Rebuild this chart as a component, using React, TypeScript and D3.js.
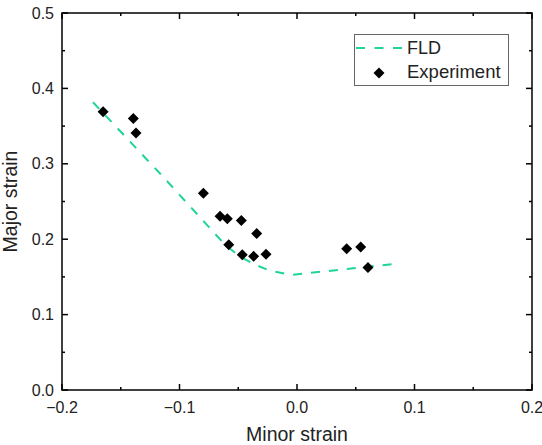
import React from "react";
import * as d3 from "d3";

const fldX = [-0.1736, -0.1166, -0.0613, -0.0485, -0.0357, -0.023, -0.0102, -0.0034, 0.0851];
const fldY = [0.3816, 0.2872, 0.1928, 0.1769, 0.1662, 0.1582, 0.1543, 0.1529, 0.1676];

const expX = [-0.165, -0.1393, -0.137, -0.0797, -0.0655, -0.0593, -0.0474, -0.0343, -0.0581, -0.0466, -0.0369, -0.0264, 0.0423, 0.0542, 0.0604];
const expY = [0.369, 0.36, 0.341, 0.261, 0.2305, 0.227, 0.2247, 0.2074, 0.1928, 0.1795, 0.1773, 0.18, 0.1875, 0.1897, 0.1626];

const xMajor = [-0.2, -0.1, 0.0, 0.1, 0.2];
const yMajor = [0.0, 0.1, 0.2, 0.3, 0.4, 0.5];
const xMinor = [-0.15, -0.05, 0.05, 0.15];
const yMinor = [0.05, 0.15, 0.25, 0.35, 0.45];

const GREEN = "#1fd49a";
const FONT = "'Liberation Sans', Arial, sans-serif";

export default function App() {
  const W = 542, H = 445;
  const L = 62, R = 532, T = 13, B = 390;
  const x = d3.scaleLinear().domain([-0.2, 0.2]).range([L, R]);
  const y = d3.scaleLinear().domain([0, 0.5]).range([B, T]);
  const line = d3.line<number>().x((_, i) => x(fldX[i])).y((_, i) => y(fldY[i]));
  const fmt = (v: number) => (v < 0 ? "\u2212" : "") + Math.abs(v).toFixed(1);
  const diamond = (cx: number, cy: number, r: number) =>
    `M${cx},${cy - r}L${cx + r},${cy}L${cx},${cy + r}L${cx - r},${cy}Z`;
  const maj = 6, min = 3;
  return (
    <svg width={W} height={H} style={{ position: "absolute", left: 0, top: 0, background: "#fff" }} fontFamily={FONT}>
      <rect x={0} y={0} width={W} height={H} fill="#fff" />
      <path d={line(fldX) || ""} fill="none" stroke={GREEN} strokeWidth={2} strokeDasharray="9,9" />
      {expX.map((v, i) => (
        <path key={i} d={diamond(x(v), y(expY[i]), 5.5)} fill="#000" />
      ))}
      {/* frame */}
      <rect x={L} y={T} width={R - L} height={B - T} fill="none" stroke="#000" strokeWidth={1.5} />
      {xMajor.map((v) => (
        <g key={"xm" + v}>
          <line x1={x(v)} x2={x(v)} y1={B} y2={B - maj} stroke="#000" strokeWidth={1.5} />
          <line x1={x(v)} x2={x(v)} y1={T} y2={T + maj} stroke="#000" strokeWidth={1.5} />
          <text x={x(v)} y={412.5} textAnchor="middle" fontSize={16} fill="#222">{fmt(v)}</text>
        </g>
      ))}
      {xMinor.map((v) => (
        <g key={"xn" + v}>
          <line x1={x(v)} x2={x(v)} y1={B} y2={B - min} stroke="#000" strokeWidth={1.5} />
          <line x1={x(v)} x2={x(v)} y1={T} y2={T + min} stroke="#000" strokeWidth={1.5} />
        </g>
      ))}
      {yMajor.map((v) => (
        <g key={"ym" + v}>
          <line x1={L} x2={L + maj} y1={y(v)} y2={y(v)} stroke="#000" strokeWidth={1.5} />
          <line x1={R} x2={R - maj} y1={y(v)} y2={y(v)} stroke="#000" strokeWidth={1.5} />
          <text x={54} y={y(v) + 5.5} textAnchor="end" fontSize={16} fill="#222">{fmt(v)}</text>
        </g>
      ))}
      {yMinor.map((v) => (
        <g key={"yn" + v}>
          <line x1={L} x2={L + min} y1={y(v)} y2={y(v)} stroke="#000" strokeWidth={1.5} />
          <line x1={R} x2={R - min} y1={y(v)} y2={y(v)} stroke="#000" strokeWidth={1.5} />
        </g>
      ))}
      <text x={(L + R) / 2} y={441} textAnchor="middle" fontSize={19.5} fill="#222">Minor strain</text>
      <text transform={`translate(17,${(T + B) / 2}) rotate(-90)`} textAnchor="middle" fontSize={19.5} fill="#222">Major strain</text>
      {/* legend */}
      <rect x={354.5} y={34.5} width={154} height={51} fill="#fff" stroke="#666" strokeWidth={1} />
      <line x1={356} x2={402} y1={48} y2={48} stroke={GREEN} strokeWidth={2} strokeDasharray="9,9.5" />
      <text x={407} y={54} fontSize={18} fill="#222">FLD</text>
      <path d={diamond(379, 73, 5.5)} fill="#000" />
      <text x={407} y={78} fontSize={18.5} fill="#222">Experiment</text>
    </svg>
  );
}
